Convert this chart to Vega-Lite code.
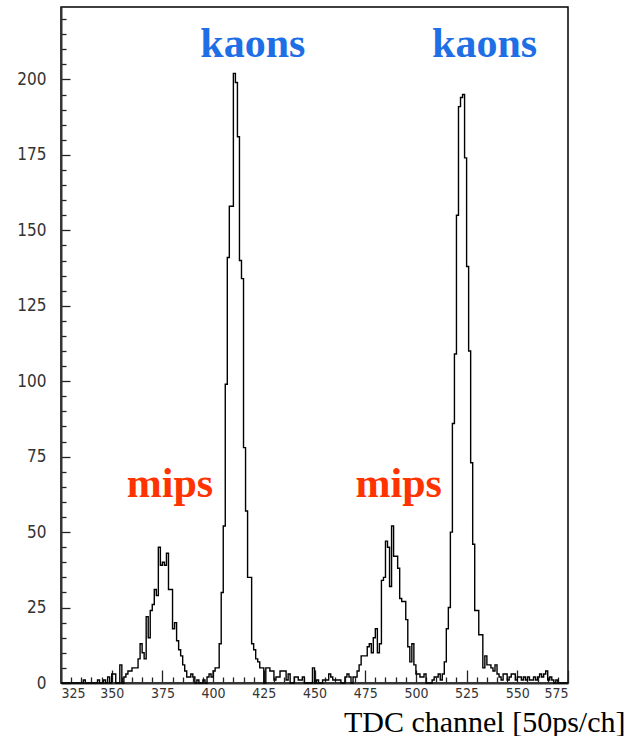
{
  "$schema": "https://vega.github.io/schema/vega-lite/v6.json",
  "width": 507,
  "height": 676,
  "autosize": "none",
  "padding": {"left": 61, "top": 7, "right": 59, "bottom": 53},
  "background": "white",
  "config": {
    "view": {"stroke": "#000", "strokeWidth": 1.5},
    "axis": {"grid": false, "labelOverlap": false, "labelBound": false}
  },
  "layer": [
    {
      "data": {"values": [
        {"ch":325,"n":0},{"ch":326,"n":0},{"ch":327,"n":0},{"ch":328,"n":0},{"ch":329,"n":0},{"ch":330,"n":0},{"ch":331,"n":0},{"ch":332,"n":0},{"ch":333,"n":0},{"ch":334,"n":0},
        {"ch":335,"n":0},{"ch":336,"n":1},{"ch":337,"n":0},{"ch":338,"n":0},{"ch":339,"n":0},{"ch":340,"n":0},{"ch":341,"n":0},{"ch":342,"n":0},{"ch":343,"n":1},{"ch":344,"n":0},
        {"ch":345,"n":0},{"ch":346,"n":1},{"ch":347,"n":0},{"ch":348,"n":2},{"ch":349,"n":0},{"ch":350,"n":3},{"ch":351,"n":3},{"ch":352,"n":0},{"ch":353,"n":0},{"ch":354,"n":6},
        {"ch":355,"n":0},{"ch":356,"n":2},{"ch":357,"n":3},{"ch":358,"n":4},{"ch":359,"n":4},{"ch":360,"n":5},{"ch":361,"n":5},{"ch":362,"n":5},{"ch":363,"n":8},{"ch":364,"n":13},
        {"ch":365,"n":10},{"ch":366,"n":8},{"ch":367,"n":22},{"ch":368,"n":15},{"ch":369,"n":24},{"ch":370,"n":26},{"ch":371,"n":31},{"ch":372,"n":29},{"ch":373,"n":45},{"ch":374,"n":39},
        {"ch":375,"n":40},{"ch":376,"n":39},{"ch":377,"n":43},{"ch":378,"n":31},{"ch":379,"n":31},{"ch":380,"n":18},{"ch":381,"n":20},{"ch":382,"n":14},{"ch":383,"n":11},{"ch":384,"n":9},
        {"ch":385,"n":6},{"ch":386,"n":4},{"ch":387,"n":2},{"ch":388,"n":2},{"ch":389,"n":3},{"ch":390,"n":2},{"ch":391,"n":0},{"ch":392,"n":1},{"ch":393,"n":0},{"ch":394,"n":0},
        {"ch":395,"n":1},{"ch":396,"n":0},{"ch":397,"n":2},{"ch":398,"n":3},{"ch":399,"n":2},{"ch":400,"n":4},{"ch":401,"n":5},{"ch":402,"n":5},{"ch":403,"n":13},{"ch":404,"n":30},
        {"ch":405,"n":52},{"ch":406,"n":99},{"ch":407,"n":141},{"ch":408,"n":158},{"ch":409,"n":158},{"ch":410,"n":202},{"ch":411,"n":199},{"ch":412,"n":181},{"ch":413,"n":140},{"ch":414,"n":134},
        {"ch":415,"n":78},{"ch":416,"n":57},{"ch":417,"n":35},{"ch":418,"n":35},{"ch":419,"n":13},{"ch":420,"n":11},{"ch":421,"n":8},{"ch":422,"n":7},{"ch":423,"n":5},{"ch":424,"n":5},
        {"ch":425,"n":0},{"ch":426,"n":5},{"ch":427,"n":5},{"ch":428,"n":4},{"ch":429,"n":4},{"ch":430,"n":1},{"ch":431,"n":2},{"ch":432,"n":2},{"ch":433,"n":4},{"ch":434,"n":4},
        {"ch":435,"n":4},{"ch":436,"n":1},{"ch":437,"n":3},{"ch":438,"n":0},{"ch":439,"n":0},{"ch":440,"n":2},{"ch":441,"n":2},{"ch":442,"n":1},{"ch":443,"n":1},{"ch":444,"n":2},
        {"ch":445,"n":0},{"ch":446,"n":0},{"ch":447,"n":0},{"ch":448,"n":0},{"ch":449,"n":5},{"ch":450,"n":0},{"ch":451,"n":1},{"ch":452,"n":0},{"ch":453,"n":0},{"ch":454,"n":1},
        {"ch":455,"n":1},{"ch":456,"n":1},{"ch":457,"n":3},{"ch":458,"n":2},{"ch":459,"n":1},{"ch":460,"n":1},{"ch":461,"n":1},{"ch":462,"n":1},{"ch":463,"n":0},{"ch":464,"n":0},
        {"ch":465,"n":2},{"ch":466,"n":3},{"ch":467,"n":2},{"ch":468,"n":0},{"ch":469,"n":2},{"ch":470,"n":2},{"ch":471,"n":4},{"ch":472,"n":6},{"ch":473,"n":9},{"ch":474,"n":9},
        {"ch":475,"n":9},{"ch":476,"n":12},{"ch":477,"n":13},{"ch":478,"n":10},{"ch":479,"n":15},{"ch":480,"n":18},{"ch":481,"n":10},{"ch":482,"n":13},{"ch":483,"n":34},{"ch":484,"n":35},
        {"ch":485,"n":47},{"ch":486,"n":45},{"ch":487,"n":32},{"ch":488,"n":52},{"ch":489,"n":42},{"ch":490,"n":42},{"ch":491,"n":38},{"ch":492,"n":28},{"ch":493,"n":27},{"ch":494,"n":27},
        {"ch":495,"n":21},{"ch":496,"n":12},{"ch":497,"n":7},{"ch":498,"n":13},{"ch":499,"n":6},{"ch":500,"n":3},{"ch":501,"n":3},{"ch":502,"n":2},{"ch":503,"n":2},{"ch":504,"n":3},
        {"ch":505,"n":0},{"ch":506,"n":0},{"ch":507,"n":0},{"ch":508,"n":1},{"ch":509,"n":2},{"ch":510,"n":2},{"ch":511,"n":3},{"ch":512,"n":1},{"ch":513,"n":3},{"ch":514,"n":7},
        {"ch":515,"n":18},{"ch":516,"n":25},{"ch":517,"n":50},{"ch":518,"n":86},{"ch":519,"n":109},{"ch":520,"n":155},{"ch":521,"n":191},{"ch":522,"n":194},{"ch":523,"n":195},{"ch":524,"n":174},
        {"ch":525,"n":138},{"ch":526,"n":110},{"ch":527,"n":73},{"ch":528,"n":46},{"ch":529,"n":24},{"ch":530,"n":24},{"ch":531,"n":16},{"ch":532,"n":16},{"ch":533,"n":5},{"ch":534,"n":9},
        {"ch":535,"n":6},{"ch":536,"n":6},{"ch":537,"n":5},{"ch":538,"n":4},{"ch":539,"n":6},{"ch":540,"n":3},{"ch":541,"n":2},{"ch":542,"n":1},{"ch":543,"n":3},{"ch":544,"n":3},
        {"ch":545,"n":1},{"ch":546,"n":2},{"ch":547,"n":3},{"ch":548,"n":3},{"ch":549,"n":1},{"ch":550,"n":2},{"ch":551,"n":2},{"ch":552,"n":1},{"ch":553,"n":2},{"ch":554,"n":1},
        {"ch":555,"n":2},{"ch":556,"n":1},{"ch":557,"n":1},{"ch":558,"n":2},{"ch":559,"n":1},{"ch":560,"n":2},{"ch":561,"n":3},{"ch":562,"n":2},{"ch":563,"n":3},{"ch":564,"n":4},
        {"ch":565,"n":1},{"ch":566,"n":2},{"ch":567,"n":1},{"ch":568,"n":0},{"ch":569,"n":1},{"ch":570,"n":0},{"ch":571,"n":0},{"ch":572,"n":0},{"ch":573,"n":0},{"ch":574,"n":0},
        {"ch":575,"n":0}
      ]},
      "mark": {"type": "line", "interpolate": "step-after", "color": "#000", "strokeWidth": 1.4},
      "encoding": {
        "x": {
          "field": "ch", "type": "quantitative",
          "scale": {"domain": [325, 575], "nice": false, "zero": false},
          "axis": {
            "title": "TDC channel [50ps/ch]",
            "titleFont": "Liberation Serif", "titleFontSize": 30, "titleFontWeight": "normal", "titleColor": "#000",
            "titleAlign": "right", "titleBaseline": "alphabetic", "titleX": 564, "titleY": 48, "titleAnchor": null,
            "tickCount": 200,
            "values": [325,330,335,340,345,350,355,360,365,370,375,380,385,390,395,400,405,410,415,420,425,430,435,440,445,450,455,460,465,470,475,480,485,490,495,500,505,510,515,520,525,530,535,540,545,550,555,560,565,570,575],
            "labelExpr": "datum.value % 25 === 0 ? datum.label : ''",
            "labelOverlap": false,
            "labelFont": "Liberation Sans Narrow, DejaVu Sans Condensed, Liberation Sans",
            "labelFontSize": 14, "labelColor": "#333",
            "labelPadding": 16,
            "tickSize": {"condition": {"test": "datum.value % 25 === 0", "value": -13}, "value": -6},
            "tickColor": "#222", "tickWidth": 1.3,
            "domainColor": "#333", "domainWidth": 2
          }
        },
        "y": {
          "field": "n", "type": "quantitative",
          "scale": {"domain": [0, 224], "nice": false},
          "axis": {
            "title": null,
            "tickCount": 200,
            "values": [0,5,10,15,20,25,30,35,40,45,50,55,60,65,70,75,80,85,90,95,100,105,110,115,120,125,130,135,140,145,150,155,160,165,170,175,180,185,190,195,200,205,210,215,220],
            "labelExpr": "datum.value % 25 === 0 ? datum.label : ''",
            "labelOverlap": false,
            "labelFont": "Liberation Sans Narrow, DejaVu Sans Condensed, Liberation Sans",
            "labelFontSize": 17, "labelColor": "#333",
            "labelPadding": 24,
            "tickSize": {"condition": {"test": "datum.value % 25 === 0", "value": -9}, "value": -5},
            "tickColor": "#222", "tickWidth": 1.3,
            "domainColor": "#333", "domainWidth": 2
          }
        }
      }
    },
    {
      "data": {"values": [{"label": "kaons"}]},
      "mark": {"type": "text", "font": "Liberation Serif", "fontWeight": "bold", "fontSize": 42, "color": "#1E6FE6", "align": "center", "baseline": "alphabetic"},
      "encoding": {"x": {"datum": 419.6, "type": "quantitative"}, "y": {"datum": 207.5, "type": "quantitative"}, "text": {"field": "label"}}
    },
    {
      "data": {"values": [{"label": "kaons"}]},
      "mark": {"type": "text", "font": "Liberation Serif", "fontWeight": "bold", "fontSize": 42, "color": "#1E6FE6", "align": "center", "baseline": "alphabetic"},
      "encoding": {"x": {"datum": 533.9, "type": "quantitative"}, "y": {"datum": 207.5, "type": "quantitative"}, "text": {"field": "label"}}
    },
    {
      "data": {"values": [{"label": "mips"}]},
      "mark": {"type": "text", "font": "Liberation Serif", "fontWeight": "bold", "fontSize": 42, "color": "#FF3300", "align": "center", "baseline": "alphabetic"},
      "encoding": {"x": {"datum": 378.7, "type": "quantitative"}, "y": {"datum": 61.6, "type": "quantitative"}, "text": {"field": "label"}}
    },
    {
      "data": {"values": [{"label": "mips"}]},
      "mark": {"type": "text", "font": "Liberation Serif", "fontWeight": "bold", "fontSize": 42, "color": "#FF3300", "align": "center", "baseline": "alphabetic"},
      "encoding": {"x": {"datum": 491.5, "type": "quantitative"}, "y": {"datum": 61.6, "type": "quantitative"}, "text": {"field": "label"}}
    }
  ]
}
